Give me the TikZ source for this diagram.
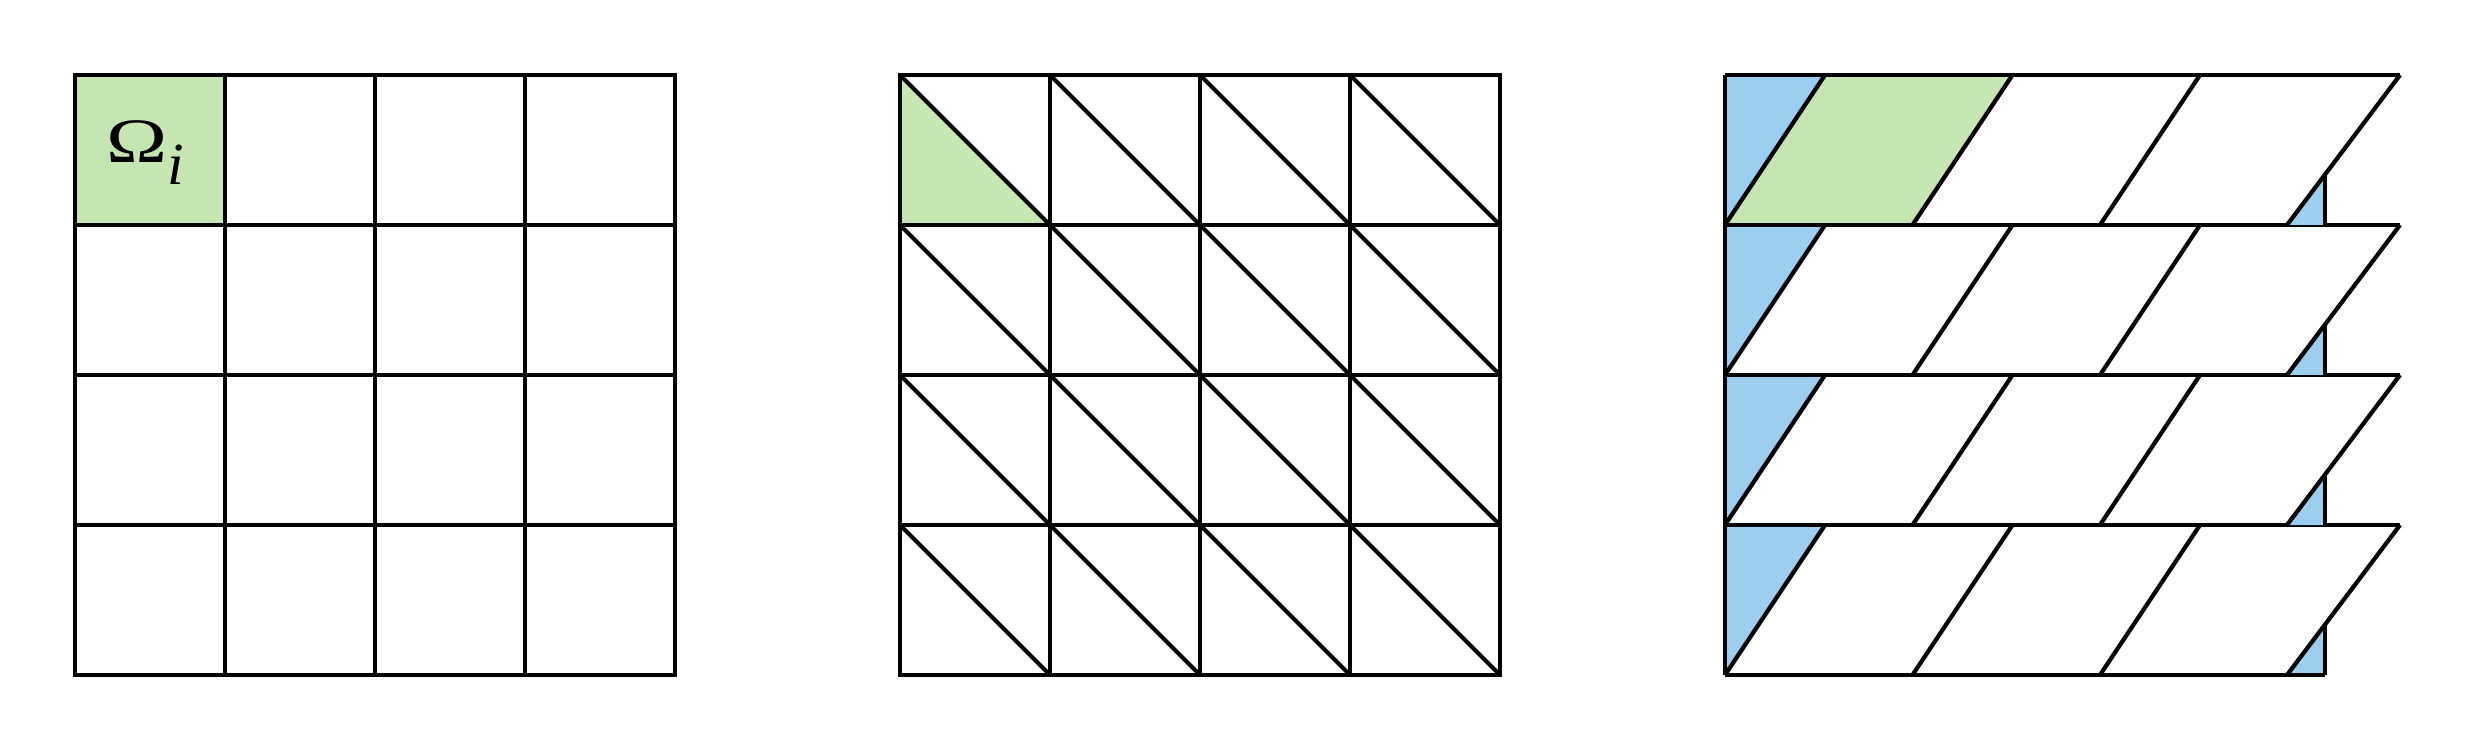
\documentclass[tikz,border=0pt]{standalone}
\usepackage{fontspec}
\setmainfont{Liberation Serif}
\definecolor{cellfill}{HTML}{C5E5B1}
\definecolor{ghostfill}{HTML}{9CCFEF}
\definecolor{meshstroke}{HTML}{000000}
\tikzset{
  mesh/.style={
    draw=meshstroke,
    line width=1.2pt,
    line join=miter
  },
  pickcell/.style={fill=cellfill},
  ghostcell/.style={fill=ghostfill},
  celllabel/.style={
    inner sep=0pt,
    font=\fontsize{18}{20}\selectfont
  }
}

\begin{document}
\begin{tikzpicture}[x=1cm,y=1cm]
  \useasboundingbox (0,0) rectangle (24.73,7.5);

  % Square mesh.
  \path[pickcell] (0.75,5.25) rectangle (2.25,6.75);
  \node[celllabel,anchor=base west] (omegalabel) at (1.06,5.87)
    {\scalebox{1.3}[1]{Ω}\raisebox{-6pt}{\fontsize{17}{18}\selectfont\itshape i}};
  \draw[mesh] (0.75,0.75) rectangle (6.75,6.75);
  \draw[mesh] (2.25,0.75) -- (2.25,6.75);
  \draw[mesh] (3.75,0.75) -- (3.75,6.75);
  \draw[mesh] (5.25,0.75) -- (5.25,6.75);
  \draw[mesh] (0.75,2.25) -- (6.75,2.25);
  \draw[mesh] (0.75,3.75) -- (6.75,3.75);
  \draw[mesh] (0.75,5.25) -- (6.75,5.25);

  % Triangle mesh.
  \path[pickcell] (9,6.75) -- (10.5,5.25) -- (9,5.25) -- cycle;
  \draw[mesh] (9,0.75) rectangle (15,6.75);
  \draw[mesh] (10.5,0.75) -- (10.5,6.75);
  \draw[mesh] (12,0.75) -- (12,6.75);
  \draw[mesh] (13.5,0.75) -- (13.5,6.75);
  \draw[mesh] (9,2.25) -- (15,2.25);
  \draw[mesh] (9,3.75) -- (15,3.75);
  \draw[mesh] (9,5.25) -- (15,5.25);
  \draw[mesh] (9,2.25) -- (10.5,0.75);
  \draw[mesh] (9,3.75) -- (12,0.75);
  \draw[mesh] (9,5.25) -- (13.5,0.75);
  \draw[mesh] (9,6.75) -- (15,0.75);
  \draw[mesh] (10.5,6.75) -- (15,2.25);
  \draw[mesh] (12,6.75) -- (15,3.75);
  \draw[mesh] (13.5,6.75) -- (15,5.25);

  % Sheared mesh, one strip per row.
  \path[pickcell] (17.25,5.25) -- (19.125,5.25) -- (20.125,6.75)
    -- (18.25,6.75) -- cycle;
  \foreach \rowy in {0.75,2.25,3.75,5.25} {
    \path[ghostcell] (17.25,\rowy) -- (18.25,\rowy+1.5)
      -- (17.25,\rowy+1.5) -- cycle;
    \path[ghostcell] (22.87,\rowy) -- (23.25,\rowy)
      -- (23.25,\rowy+0.504) -- cycle;
    \draw[mesh] (17.25,\rowy+1.5) -- (24,\rowy+1.5);
    \draw[mesh] (17.25,\rowy) -- (18.25,\rowy+1.5);
    \draw[mesh] (19.125,\rowy) -- (20.125,\rowy+1.5);
    \draw[mesh] (21,\rowy) -- (22,\rowy+1.5);
    \draw[mesh] (22.87,\rowy) -- (24,\rowy+1.5);
    \draw[mesh] (23.25,\rowy) -- (23.25,\rowy+0.504);
  }
  \draw[mesh] (17.25,0.75) -- (23.25,0.75);
  \draw[mesh] (17.25,0.75) -- (17.25,6.75);
\end{tikzpicture}
\end{document}
